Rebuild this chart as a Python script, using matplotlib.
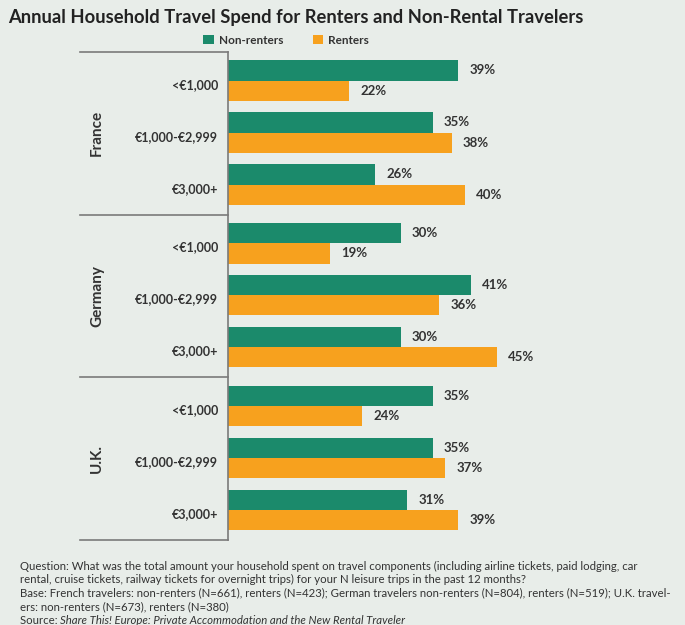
import matplotlib.pyplot as plt
from matplotlib.transforms import blended_transform_factory

# data
countries = ['France', 'Germany', 'U.K.']
categories = ['<€1,000', '€1,000-€2,999', '€3,000+']
non_renters = [39, 35, 26, 30, 41, 30, 35, 35, 31]
renters = [22, 38, 40, 19, 36, 45, 24, 37, 39]

bg = '#e8ede9'
green = '#1b8a6b'
orange = '#f7a11e'
txt = '#333333'
line_col = '#7a7a7a'

plt.rcParams['font.family'] = ['Lato', 'DejaVu Sans']

fig = plt.figure(figsize=(6.85, 6.25), dpi=100, facecolor=bg)
ax = fig.add_axes([228 / 685, 1 - 540 / 625, 390 / 685, 488 / 625])
ax.set_facecolor(bg)

group_h = 3.13
first = 0.55
ys = [g * group_h + first + i for g in range(len(countries)) for i in range(len(categories))]

bh = 0.39
yg = [y - bh / 2 for y in ys]
yo = [y + bh / 2 for y in ys]
ax.barh(yg, non_renters, height=bh, color=green, label='Non-renters')
ax.barh(yo, renters, height=bh, color=orange, label='Renters')

for y, v in zip(yg, non_renters):
    ax.annotate(f'{v}%', (v, y), xytext=(8, 0), textcoords='offset points',
                va='center', ha='left', fontsize=9.5, fontweight='bold', color=txt)
for y, v in zip(yo, renters):
    ax.annotate(f'{v}%', (v, y), xytext=(8, 0), textcoords='offset points',
                va='center', ha='left', fontsize=9.5, fontweight='bold', color=txt)

ax.set_xlim(3, 64)
ax.set_ylim(len(countries) * group_h, 0)
ax.set_xticks([])
ax.set_yticks([y + 0.06 for y in ys])
ax.set_yticklabels(categories * len(countries), fontsize=9, fontweight='bold', color=txt)
ax.tick_params(axis='y', length=0, pad=7)
for s in ['top', 'right', 'bottom']:
    ax.spines[s].set_visible(False)
ax.spines['left'].set_color(line_col)
ax.spines['left'].set_linewidth(1.2)

tr = blended_transform_factory(ax.transAxes, ax.transData)
for g in range(len(countries) + 1):
    ax.plot([-0.38, 0], [g * group_h] * 2, transform=tr, clip_on=False,
            color=line_col, lw=1.2)
for g, c in enumerate(countries):
    ax.text(-0.336, g * group_h + group_h / 2, c, transform=tr, rotation=90,
            ha='center', va='center', fontsize=11, fontweight='bold', color=txt)

fig.text(8 / 685, 1 - 17 / 625, 'Annual Household Travel Spend for Renters and Non-Rental Travelers',
         fontsize=13.2, fontweight='bold', color='#222222', va='center', ha='left')

fig.legend(loc='center', bbox_to_anchor=(286 / 685, 1 - 40 / 625), ncol=2, frameon=False,
           prop={'size': 8.5, 'weight': 'bold'}, handlelength=0.9, handleheight=0.9,
           columnspacing=2.5, handletextpad=0.4, labelcolor=txt)

notes = [
    'Question: What was the total amount your household spent on travel components (including airline tickets, paid lodging, car',
    'rental, cruise tickets, railway tickets for overnight trips) for your N leisure trips in the past 12 months?',
    'Base: French travelers: non-renters (N=661), renters (N=423); German travelers non-renters (N=804), renters (N=519); U.K. travel-',
    'ers: non-renters (N=673), renters (N=380)',
]
fs = 8.2
for i, line in enumerate(notes):
    fig.text(20 / 685, 1 - (566 + i * 13.5) / 625, line, fontsize=fs, color=txt, va='center', ha='left')
src = fig.text(20 / 685, 1 - (566 + 4 * 13.5) / 625, 'Source: ', fontsize=fs, color=txt, va='center', ha='left')
it = fig.text(0, 0, 'Share This! Europe: Private Accommodation and the New Rental Traveler',
              fontsize=fs, color=txt, style='italic', va='center', ha='left')
fig.canvas.draw()
bb = src.get_window_extent()
it.set_position((bb.x1 / fig.bbox.width, 1 - (566 + 4 * 13.5) / 625))

fig.savefig('out.png', dpi=100, facecolor=bg)
